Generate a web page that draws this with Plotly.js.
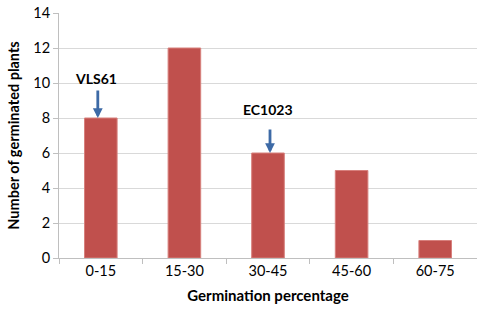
<!DOCTYPE html>
<html>
<head>
<meta charset="utf-8">
<script src="https://cdn.plot.ly/plotly-3.0.1.min.js"></script>
<style>html,body{margin:0;padding:0;background:#fff;}#chart{width:477px;height:310px;}</style>
</head>
<body>
<div id="chart"></div>
<script>
var categories = ["0-15", "15-30", "30-45", "45-60", "60-75"];
var plants = [8, 12, 6, 5, 1];
var yTicks = [0, 2, 4, 6, 8, 10, 12, 14];
var labelNames = ["VLS61", "EC1023"];
var labelCats = ["0-15", "30-45"];
var labelVals = [8, 6];

var font = "Lato, 'Open Sans', sans-serif";
var trace = {
  type: "bar",
  x: categories,
  y: plants,
  marker: {color: "#c0504d", line: {color: "#d7807d", width: 1}},
  hoverinfo: "none"
};

var annotations = [];
var textY = [10.25, 8.5];
var arrowLen = [29, 25];
var xs = [-3, 2];
for (var i = 0; i < labelNames.length; i++) {
  annotations.push({
    x: labelCats[i], y: textY[i], xref: "x", yref: "y",
    text: "<b>" + labelNames[i] + "</b>", showarrow: false,
    font: {family: font, size: 14, color: "#000"}, xshift: xs[i] - 2
  });
  annotations.push({
    x: labelCats[i], y: labelVals[i], xref: "x", yref: "y",
    ax: 0, ay: -arrowLen[i], text: "", showarrow: true,
    arrowhead: 2, arrowsize: 0.7, arrowwidth: 2.8, arrowcolor: "#3d6aa6",
    xshift: xs[i], standoff: 0
  });
}

var layout = {
  width: 477, height: 310,
  margin: {l: 59, r: 0, t: 13, b: 52},
  paper_bgcolor: "#fff", plot_bgcolor: "#fff",
  bargap: 0.61,
  showlegend: false,
  font: {family: font, size: 14, color: "#000"},
  xaxis: {
    type: "category",
    showline: true, linecolor: "#bfbfbf", linewidth: 1,
    ticks: "outside", tickson: "boundaries", ticklen: 5, tickcolor: "#bfbfbf",
    showgrid: false, zeroline: false,
    tickfont: {family: font, size: 14.5, color: "#000"},
    title: {text: "<b>Germination percentage</b>", font: {family: font, size: 15, color: "#000"}, standoff: 12}
  },
  yaxis: {
    range: [0, 14], tickvals: yTicks,
    showline: true, linecolor: "#bfbfbf", linewidth: 1,
    ticks: "outside", ticklen: 5, tickcolor: "#bfbfbf",
    showgrid: true, gridcolor: "#d9d9d9", gridwidth: 1,
    zeroline: false,
    tickfont: {family: font, size: 14.5, color: "#000"},
    title: {text: "<b>Number of germinated plants</b>", font: {family: font, size: 14.5, color: "#000"}, standoff: 10}
  },
  annotations: annotations
};

Plotly.newPlot("chart", [trace], layout, {staticPlot: true, displayModeBar: false});
</script>
</body>
</html>
